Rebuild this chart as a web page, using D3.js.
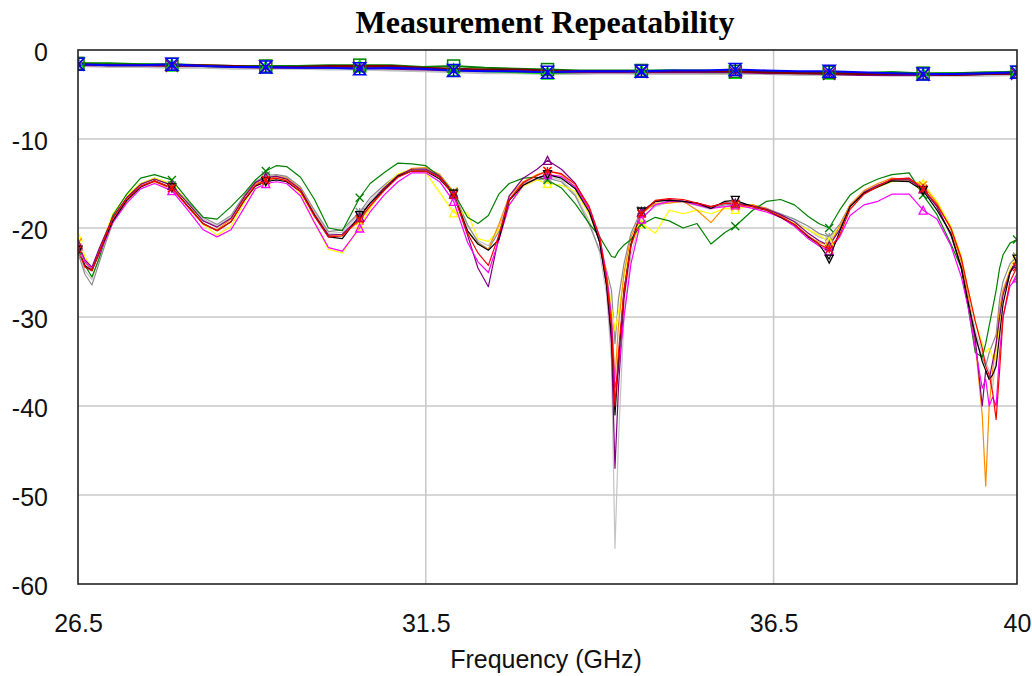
<!DOCTYPE html>
<html><head><meta charset="utf-8">
<script src="https://cdn.jsdelivr.net/npm/d3@7"></script>
<style>body{margin:0;background:#fff}</style>
</head><body><svg id="c" width="1032" height="676"></svg>
<script>
// ---------- DATA ----------
const titleText = "Measurement Repeatability";
const xLabel = "Frequency (GHz)";
const yTicks = [0, -10, -20, -30, -40, -50, -60];
const yTickLabels = ["0", "-10", "-20", "-30", "-40", "-50", "-60"];
const xTicks = [26.5, 31.5, 36.5, 40];
const xTickLabels = ["26.5", "31.5", "36.5", "40"];
const markerFreqs = [26.5, 27.85, 29.2, 30.55, 31.9, 33.25, 34.6, 35.95, 37.3, 38.65, 40.0];

const freqs = [
 26.5, 26.6, 26.7, 26.8, 26.9, 27.0, 27.2, 27.4, 27.6, 27.85, 28.1, 28.3, 28.5, 28.7, 28.9, 29.05, 29.2,
 29.35, 29.5, 29.7, 29.9, 30.1, 30.3, 30.55, 30.7, 30.9, 31.1, 31.3, 31.5, 31.7, 31.9, 32.1, 32.25, 32.4,
 32.55, 32.7, 32.9, 33.1, 33.25, 33.45, 33.65, 33.85, 34.0, 34.1, 34.17, 34.22, 34.27, 34.35, 34.45, 34.6, 34.8,
 35.0, 35.2, 35.4, 35.6, 35.8, 35.95, 36.2, 36.4, 36.6, 36.8, 37.0, 37.15, 37.3, 37.45, 37.6, 37.8, 38.0,
 38.2, 38.45, 38.65, 38.85, 39.05, 39.2, 39.3, 39.4, 39.5, 39.55, 39.6, 39.65, 39.7, 39.75, 39.8, 39.9, 40.0
];

const s11Green = [
 -22.5,-24.2,-25.5,-23.5,-21.0,-18.6,-16.2,-14.4,-14.0,-14.6,-17.0,-18.8,-19.0,-17.6,-16.0,-14.6,-13.6,
 -13.0,-13.1,-14.3,-16.8,-20.0,-20.3,-16.6,-15.0,-13.8,-12.7,-12.8,-13.0,-14.2,-16.0,-18.8,-19.5,-18.6,
 -16.2,-15.0,-14.4,-14.3,-14.6,-15.5,-17.3,-19.5,-21.0,-22.3,-23.2,-23.3,-22.6,-21.9,-21.3,-19.6,-18.8,
 -19.2,-20.0,-19.5,-21.8,-20.5,-19.8,-18.0,-17.0,-16.8,-17.4,-18.7,-19.5,-20.0,-18.0,-16.3,-15.2,-14.5,
 -14.0,-13.8,-16.3,-18.5,-21.8,-24.5,-29.0,-34.0,-34.5,-33.0,-31.0,-29.0,-27.0,-24.5,-23.0,-21.7,-21.3
];
const s11Yellow = [
 -21.0,-23.2,-24.6,-22.8,-20.5,-18.4,-16.3,-15.0,-14.4,-15.0,-17.4,-19.6,-20.8,-19.8,-17.0,-15.3,-14.7,
 -14.4,-14.6,-16.2,-19.4,-22.4,-22.8,-19.8,-17.8,-15.4,-13.9,-13.4,-13.8,-16.0,-18.3,-18.3,-21.2,-21.5,
 -20.2,-17.4,-15.3,-14.6,-15.0,-15.2,-15.9,-18.5,-21.4,-25.0,-29.0,-31.5,-29.5,-25.5,-21.8,-19.5,-20.6,
 -18.0,-18.4,-18.0,-18.4,-17.8,-17.9,-17.4,-18.0,-18.8,-19.5,-20.2,-20.8,-21.5,-19.8,-17.6,-16.0,-15.4,
 -14.8,-14.7,-15.0,-17.0,-19.8,-23.2,-27.0,-30.5,-33.0,-34.0,-33.5,-34.5,-35.0,-30.5,-27.5,-24.5,-23.0
];
const s11Black = [
 -22.5,-24.2,-24.8,-22.8,-21.0,-19.2,-16.9,-15.4,-14.7,-15.5,-17.7,-19.5,-20.3,-19.3,-16.8,-15.3,-14.8,
 -14.6,-14.8,-15.9,-18.6,-21.0,-21.2,-18.6,-17.2,-15.7,-14.2,-13.6,-13.6,-14.5,-16.2,-20.3,-21.8,-22.5,
 -21.3,-16.9,-15.2,-14.4,-14.0,-14.4,-15.6,-18.2,-21.6,-26.5,-32.0,-41.0,-35.0,-27.0,-21.8,-18.2,-17.0,
 -16.9,-17.0,-17.2,-17.8,-17.0,-16.9,-17.6,-18.0,-18.8,-19.6,-21.0,-21.8,-23.5,-20.4,-17.6,-16.1,-15.4,
 -14.7,-14.8,-15.8,-18.0,-20.6,-24.5,-28.5,-32.0,-35.0,-36.0,-37.0,-36.5,-35.5,-32.0,-28.5,-25.0,-23.5
];
const s11Gray = [
 -22.8,-25.2,-26.4,-24.0,-21.6,-19.4,-16.6,-15.0,-14.4,-15.2,-17.2,-18.8,-19.6,-18.6,-16.2,-14.8,-14.1,
 -14.0,-14.2,-15.4,-18.0,-20.4,-20.2,-18.2,-16.6,-15.2,-14.0,-13.4,-13.3,-14.0,-16.0,-19.6,-21.6,-22.4,
 -20.4,-16.8,-15.0,-14.6,-14.4,-14.8,-16.4,-19.6,-22.5,-24.8,-27.0,-33.0,-28.0,-24.0,-20.6,-18.0,-17.4,
 -17.0,-17.0,-17.4,-17.8,-17.4,-17.3,-17.4,-17.8,-18.4,-19.0,-19.8,-20.6,-21.0,-19.6,-17.4,-16.0,-15.2,
 -14.6,-14.4,-15.6,-17.6,-20.8,-24.6,-28.5,-32.5,-34.5,-35.5,-34.0,-33.0,-32.0,-28.0,-26.0,-24.0,-23.2
];
const s11Silver = [
 -22.2,-24.8,-25.8,-23.4,-21.2,-19.0,-16.6,-15.1,-14.5,-15.3,-17.3,-19.0,-19.8,-18.8,-16.4,-14.9,-14.3,
 -14.1,-14.3,-15.6,-18.2,-20.6,-20.5,-18.4,-16.9,-15.4,-14.1,-13.5,-13.5,-14.2,-16.2,-19.8,-21.4,-22.0,
 -20.0,-16.9,-15.0,-14.4,-14.2,-14.6,-16.2,-19.2,-22.8,-27.5,-35.0,-56.0,-44.0,-30.0,-23.0,-18.8,-17.6,
 -17.1,-17.1,-17.5,-17.9,-17.3,-17.2,-17.5,-17.9,-18.5,-19.2,-20.2,-21.0,-21.4,-19.8,-17.6,-16.2,-15.4,
 -14.8,-14.6,-15.6,-17.4,-20.0,-23.6,-27.6,-31.6,-34.0,-35.0,-36.0,-38.0,-34.5,-30.0,-27.0,-24.8,-23.8
];
const s11Orange = [
 -21.6,-23.8,-24.8,-23.0,-21.2,-19.4,-17.0,-15.4,-14.8,-15.6,-17.8,-19.6,-20.2,-19.0,-16.4,-15.0,-14.6,
 -14.2,-14.4,-15.6,-18.4,-20.8,-20.8,-19.2,-17.6,-15.8,-14.2,-13.3,-13.2,-14.0,-15.9,-20.4,-21.8,-22.4,
 -19.6,-16.4,-14.8,-14.0,-13.6,-14.0,-15.4,-18.0,-21.4,-25.6,-30.0,-37.0,-31.0,-25.0,-21.0,-18.4,-17.2,
 -17.2,-17.0,-18.0,-19.4,-17.6,-17.6,-17.4,-17.8,-18.6,-19.6,-21.0,-21.6,-22.0,-19.8,-17.4,-15.8,-15.0,
 -14.4,-14.6,-15.2,-17.2,-20.2,-23.8,-27.8,-33.0,-41.0,-49.0,-40.0,-36.0,-33.0,-29.0,-27.0,-24.8,-23.6
];
const s11Red = [
 -22.4,-24.4,-24.8,-22.8,-20.8,-18.9,-16.7,-15.3,-14.7,-15.5,-17.8,-19.5,-20.3,-19.3,-16.7,-15.2,-14.6,
 -14.4,-14.7,-15.9,-18.7,-21.0,-20.9,-19.0,-17.5,-15.8,-14.3,-13.6,-13.6,-14.3,-16.3,-20.6,-22.8,-24.2,
 -20.8,-16.8,-14.9,-14.1,-13.6,-13.9,-15.1,-17.6,-21.0,-25.8,-31.0,-40.0,-34.0,-27.0,-22.0,-18.4,-16.9,
 -16.7,-16.8,-17.2,-17.6,-17.2,-17.3,-17.6,-18.0,-18.7,-19.6,-20.9,-21.8,-22.4,-20.8,-17.9,-16.2,-15.3,
 -14.5,-14.4,-15.6,-17.4,-20.0,-23.4,-27.0,-30.5,-33.5,-35.5,-36.5,-38.5,-41.5,-36.0,-30.0,-26.0,-24.4
];
const s11Magenta = [
 -22.0,-23.8,-24.6,-23.0,-21.2,-19.4,-17.2,-15.6,-15.0,-15.8,-18.2,-20.2,-21.0,-20.2,-17.6,-15.6,-15.0,
 -14.8,-15.0,-16.4,-19.4,-22.2,-22.6,-20.0,-18.2,-16.3,-14.8,-13.8,-13.8,-14.8,-17.0,-21.6,-23.8,-25.0,
 -21.4,-17.4,-15.2,-14.4,-14.0,-14.2,-15.4,-17.8,-21.0,-25.2,-30.0,-38.0,-36.0,-30.0,-24.0,-19.0,-17.4,
 -17.0,-17.0,-17.4,-17.8,-17.6,-17.4,-17.8,-18.2,-18.8,-19.8,-21.2,-22.0,-22.6,-21.0,-18.6,-17.4,-17.0,
 -16.2,-16.2,-18.0,-19.0,-22.0,-25.5,-29.0,-33.5,-38.0,-37.0,-40.0,-39.0,-40.0,-34.0,-30.0,-26.5,-25.6
];
const s11Purple = [
 -21.8,-23.6,-24.4,-22.4,-20.6,-18.8,-16.6,-15.1,-14.5,-15.2,-17.4,-19.2,-19.9,-18.9,-16.4,-14.9,-14.3,
 -14.2,-14.5,-15.7,-18.5,-20.8,-20.7,-18.8,-17.2,-15.5,-14.1,-13.4,-13.4,-14.2,-16.2,-20.8,-24.5,-26.6,
 -21.0,-16.4,-14.4,-13.4,-12.4,-13.4,-15.0,-17.8,-21.6,-26.5,-33.0,-47.0,-38.0,-28.0,-22.0,-18.2,-17.0,
 -16.8,-17.0,-17.2,-17.6,-17.2,-17.2,-17.5,-17.9,-18.5,-19.3,-20.6,-21.4,-22.0,-20.2,-17.6,-16.0,-15.2,
 -14.6,-14.6,-15.6,-17.6,-20.8,-24.4,-28.5,-32.5,-40.0,-36.0,-37.0,-35.0,-33.0,-30.0,-27.5,-25.0,-24.0
];

const freqsTop = [
 26.5, 26.95, 27.4, 27.85, 28.3, 28.75, 29.2, 29.65, 30.1, 30.55, 31.0, 31.45, 31.9, 32.35, 32.8, 33.25,
 33.7, 34.15, 34.6, 35.05, 35.5, 35.95, 36.4, 36.85, 37.3, 37.75, 38.2, 38.65, 39.1, 39.55, 40.0
];
const s21Gray   = [-1.8,-1.9,-1.9,-2.0,-2.0,-2.1,-2.1,-2.1,-2.2,-2.2,-2.3,-2.4,-2.5,-2.6,-2.6,-2.7,-2.7,-2.6,-2.7,-2.7,-2.7,-2.7,-2.7,-2.8,-2.8,-2.8,-2.9,-2.9,-2.9,-2.9,-2.8];
const s21Lime   = [-1.5,-1.6,-1.6,-1.7,-1.8,-1.9,-1.9,-1.9,-1.9,-1.8,-1.9,-2.1,-2.2,-2.4,-2.5,-2.6,-2.5,-2.4,-2.4,-2.3,-2.5,-2.5,-2.4,-2.5,-2.6,-2.6,-2.5,-2.7,-2.6,-2.6,-2.4];
const s21Green  = [-1.5,-1.5,-1.6,-1.6,-1.7,-1.8,-1.8,-1.8,-1.7,-1.7,-1.7,-1.9,-1.8,-2.0,-2.1,-2.2,-2.3,-2.3,-2.3,-2.3,-2.3,-2.4,-2.4,-2.5,-2.5,-2.6,-2.5,-2.6,-2.6,-2.5,-2.5];
const s21Purple = [-1.7,-1.7,-1.7,-1.8,-1.8,-1.9,-2.0,-2.0,-2.0,-2.0,-2.1,-2.2,-2.3,-2.3,-2.4,-2.5,-2.5,-2.5,-2.5,-2.5,-2.5,-2.5,-2.6,-2.6,-2.7,-2.8,-2.8,-2.8,-2.8,-2.7,-2.7];
const s21Maroon = [-1.6,-1.7,-1.7,-1.7,-1.7,-1.8,-1.9,-1.9,-1.8,-1.8,-1.8,-2.0,-2.1,-2.2,-2.2,-2.3,-2.4,-2.4,-2.4,-2.4,-2.4,-2.4,-2.5,-2.6,-2.6,-2.7,-2.7,-2.7,-2.8,-2.7,-2.6];
const s21Blue   = [-1.6,-1.7,-1.7,-1.6,-1.8,-1.9,-1.9,-2.0,-2.0,-2.1,-2.0,-2.1,-2.3,-2.4,-2.4,-2.5,-2.4,-2.4,-2.4,-2.3,-2.3,-2.2,-2.3,-2.4,-2.4,-2.5,-2.6,-2.7,-2.7,-2.6,-2.5];

// ---------- CHART ----------
const lowSeries = [
  {color:"#c4c4c4", values:s11Silver, marker:"x"},
  {color:"#8c8c8c", values:s11Gray, marker:"asterisk"},
  {color:"#ffff00", values:s11Yellow, marker:"triUp"},
  {color:"#ff8c00", values:s11Orange, marker:"x"},
  {color:"#008000", values:s11Green, marker:"x"},
  {color:"#800080", values:s11Purple, marker:"triUp"},
  {color:"#ff00ff", values:s11Magenta, marker:"triUp"},
  {color:"#000000", values:s11Black, marker:"triDown"},
  {color:"#ff0000", values:s11Red, marker:"asterisk"}
];
const topSeries = [
  {color:"#c0c0c0", values:s21Gray, marker:"none"},
  {color:"#00e000", values:s21Lime, marker:"triUp"},
  {color:"#008000", values:s21Green, marker:"square"},
  {color:"#800080", values:s21Purple, marker:"x"},
  {color:"#800000", values:s21Maroon, marker:"none"},
  {color:"#0000ff", values:s21Blue, marker:"hourglass"}
];

const svg = d3.select("#c");
const L = 78, R = 1017, T = 50, B = 584;
const x = d3.scaleLinear().domain([26.5, 40]).range([L, R]);
const y = d3.scaleLinear().domain([-60, 0]).range([B, T]);

svg.append("rect").attr("width",1032).attr("height",676).attr("fill","#fff");

// grid
const grid = svg.append("g");
grid.selectAll("line.h").data(yTicks.filter(d => d > -60 && d < 0)).enter().append("line")
  .attr("x1", L).attr("x2", R).attr("y1", d => y(d)).attr("y2", d => y(d))
  .attr("stroke", "#c8c8c8").attr("stroke-width", 1.5);
grid.selectAll("line.v").data(xTicks.filter(d => d > 26.5 && d < 40)).enter().append("line")
  .attr("y1", T).attr("y2", B).attr("x1", d => x(d)).attr("x2", d => x(d))
  .attr("stroke", "#c8c8c8").attr("stroke-width", 1.5);

svg.append("clipPath").attr("id","clip").append("rect")
  .attr("x", L).attr("y", T).attr("width", R - L).attr("height", B - T);
const plot = svg.append("g").attr("clip-path","url(#clip)");

function drawMarker(g, type, cx, cy, color, s) {
  const h = s / 2;
  if (type === "none") return;
  if (type === "x") {
    g.append("path").attr("d", `M${cx-h},${cy-h}L${cx+h},${cy+h}M${cx-h},${cy+h}L${cx+h},${cy-h}`)
      .attr("stroke", color).attr("stroke-width", 1.3).attr("fill","none");
  } else if (type === "asterisk") {
    g.append("path").attr("d", `M${cx-h},${cy-h}L${cx+h},${cy+h}M${cx-h},${cy+h}L${cx+h},${cy-h}M${cx},${cy-h}L${cx},${cy+h}`)
      .attr("stroke", color).attr("stroke-width", 1.3).attr("fill","none");
  } else if (type === "triUp") {
    g.append("path").attr("d", `M${cx},${cy-h}L${cx+h},${cy+h}L${cx-h},${cy+h}Z`)
      .attr("stroke", color).attr("stroke-width", 1.3).attr("fill","none");
  } else if (type === "triDown") {
    g.append("path").attr("d", `M${cx},${cy+h}L${cx+h},${cy-h}L${cx-h},${cy-h}Z`)
      .attr("stroke", color).attr("stroke-width", 1.3).attr("fill","none");
  } else if (type === "square") {
    g.append("rect").attr("x", cx-h).attr("y", cy-h).attr("width", s).attr("height", s)
      .attr("stroke", color).attr("stroke-width", 1.5).attr("fill","none");
  } else if (type === "hourglass") {
    g.append("path").attr("d", `M${cx-h},${cy-h}L${cx+h},${cy-h}L${cx},${cy}Z M${cx-h},${cy+h}L${cx+h},${cy+h}L${cx},${cy}Z M${cx},${cy-h}L${cx},${cy+h}`)
      .attr("stroke", color).attr("stroke-width", 1.5).attr("fill","none");
  }
}

function markerIndices(fs) {
  return markerFreqs.map(m => fs.findIndex(f => Math.abs(f - m) < 1e-6)).filter(i => i >= 0);
}

const lineLow = d3.line().x((d, i) => x(freqs[i])).y(d => y(d));
lowSeries.forEach(s => {
  plot.append("path").datum(s.values).attr("d", lineLow)
    .attr("fill","none").attr("stroke", s.color).attr("stroke-width", 1.2)
    .attr("stroke-linejoin","round");
});
const mIdx = markerIndices(freqs);
lowSeries.forEach(s => {
  mIdx.forEach(i => drawMarker(plot, s.marker, x(freqs[i]), y(s.values[i]), s.color, 8));
});

const lineTop = d3.line().x((d, i) => x(freqsTop[i])).y(d => y(d));
topSeries.forEach(s => {
  plot.append("path").datum(s.values).attr("d", lineTop)
    .attr("fill","none").attr("stroke", s.color).attr("stroke-width", 2)
    .attr("stroke-linejoin","round");
});
const tIdx = markerIndices(freqsTop);
topSeries.forEach(s => {
  tIdx.forEach(i => drawMarker(plot, s.marker, x(freqsTop[i]), y(s.values[i]), s.color, 12));
});

// frame
svg.append("rect").attr("x", L).attr("y", T).attr("width", R - L).attr("height", B - T)
  .attr("fill","none").attr("stroke","#222").attr("stroke-width",1.6);

// axes
const font = "'Liberation Sans', Arial, sans-serif";
const yAxis = svg.append("g").attr("transform", `translate(${L},0)`)
  .call(d3.axisLeft(y).tickValues(yTicks).tickSize(0).tickPadding(30).tickFormat((d, i) => yTickLabels[i]));
yAxis.select(".domain").remove();
yAxis.selectAll("text").attr("font-family", font).attr("font-size", 25).attr("fill","#111").attr("dy","0.42em");

const xAxis = svg.append("g").attr("transform", `translate(0,${B})`)
  .call(d3.axisBottom(x).tickValues(xTicks).tickSize(0).tickPadding(30).tickFormat((d, i) => xTickLabels[i]));
xAxis.select(".domain").remove();
xAxis.selectAll("text").attr("font-family", font).attr("font-size", 25).attr("fill","#111");

svg.append("text").attr("x", 546).attr("y", 668).attr("text-anchor","middle")
  .attr("font-family", font).attr("font-size", 25).attr("fill","#111").text(xLabel);

svg.append("text").attr("x", 545).attr("y", 33).attr("text-anchor","middle")
  .attr("font-family", "'Liberation Serif', 'Times New Roman', serif").attr("font-weight","bold")
  .attr("font-size", 32).attr("fill","#000").text(titleText);
</script>
</body></html>
